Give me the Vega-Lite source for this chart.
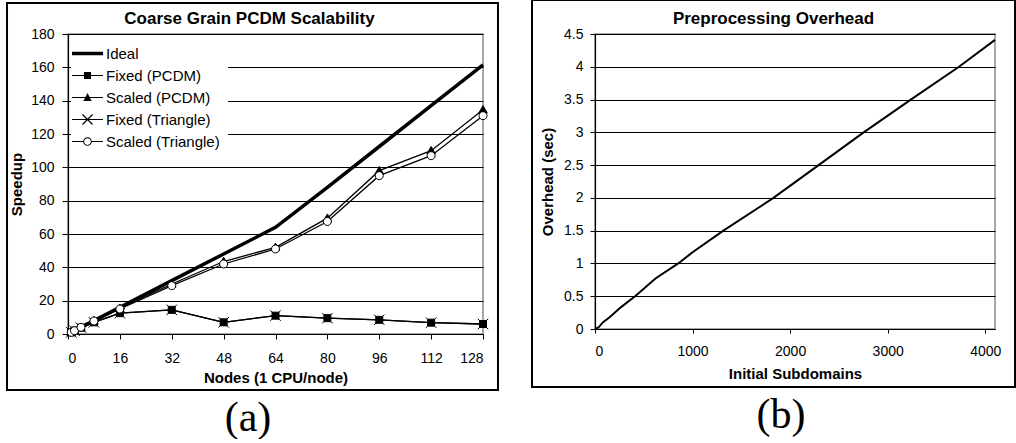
{
  "$schema": "https://vega.github.io/schema/vega-lite/v6.json",
  "background": "white",
  "padding": {"left": 5, "top": -2, "right": 0, "bottom": 0},
  "spacing": 30,
  "config": {
    "view": {"stroke": "#8c8c8c", "strokeWidth": 1.5},
    "axis": {
      "labelFont": "Liberation Sans", "labelFontSize": 14, "labelColor": "black",
      "titleFont": "Liberation Sans", "titleFontSize": 15, "titleFontWeight": "bold", "titleColor": "black",
      "tickColor": "black", "domainColor": "black", "gridColor": "black", "gridWidth": 1, "domainWidth": 1.2, "tickWidth": 1
    }
  },
  "datasets": {
    "speedup": [
      {"nodes": 1, "speedup": 1, "series": "Ideal"},
      {"nodes": 2, "speedup": 2, "series": "Ideal"},
      {"nodes": 4, "speedup": 4, "series": "Ideal"},
      {"nodes": 8, "speedup": 8, "series": "Ideal"},
      {"nodes": 16, "speedup": 16, "series": "Ideal"},
      {"nodes": 32, "speedup": 32, "series": "Ideal"},
      {"nodes": 48, "speedup": 48, "series": "Ideal"},
      {"nodes": 64, "speedup": 64, "series": "Ideal"},
      {"nodes": 80, "speedup": 88, "series": "Ideal"},
      {"nodes": 96, "speedup": 112.5, "series": "Ideal"},
      {"nodes": 112, "speedup": 137, "series": "Ideal"},
      {"nodes": 128, "speedup": 161.5, "series": "Ideal"},
      {"nodes": 1, "speedup": 1, "series": "Fixed (PCDM)"},
      {"nodes": 2, "speedup": 2, "series": "Fixed (PCDM)"},
      {"nodes": 4, "speedup": 3.8, "series": "Fixed (PCDM)"},
      {"nodes": 8, "speedup": 7, "series": "Fixed (PCDM)"},
      {"nodes": 16, "speedup": 12.5, "series": "Fixed (PCDM)"},
      {"nodes": 32, "speedup": 14.5, "series": "Fixed (PCDM)"},
      {"nodes": 48, "speedup": 7, "series": "Fixed (PCDM)"},
      {"nodes": 64, "speedup": 11, "series": "Fixed (PCDM)"},
      {"nodes": 80, "speedup": 9.5, "series": "Fixed (PCDM)"},
      {"nodes": 96, "speedup": 8.5, "series": "Fixed (PCDM)"},
      {"nodes": 112, "speedup": 6.8, "series": "Fixed (PCDM)"},
      {"nodes": 128, "speedup": 6, "series": "Fixed (PCDM)"},
      {"nodes": 1, "speedup": 1, "series": "Scaled (PCDM)"},
      {"nodes": 2, "speedup": 2, "series": "Scaled (PCDM)"},
      {"nodes": 4, "speedup": 4, "series": "Scaled (PCDM)"},
      {"nodes": 8, "speedup": 8, "series": "Scaled (PCDM)"},
      {"nodes": 16, "speedup": 15.5, "series": "Scaled (PCDM)"},
      {"nodes": 32, "speedup": 30, "series": "Scaled (PCDM)"},
      {"nodes": 48, "speedup": 43.5, "series": "Scaled (PCDM)"},
      {"nodes": 64, "speedup": 52, "series": "Scaled (PCDM)"},
      {"nodes": 80, "speedup": 69.5, "series": "Scaled (PCDM)"},
      {"nodes": 96, "speedup": 98, "series": "Scaled (PCDM)"},
      {"nodes": 112, "speedup": 110, "series": "Scaled (PCDM)"},
      {"nodes": 128, "speedup": 134.5, "series": "Scaled (PCDM)"},
      {"nodes": 1, "speedup": 1, "series": "Fixed (Triangle)"},
      {"nodes": 2, "speedup": 2, "series": "Fixed (Triangle)"},
      {"nodes": 4, "speedup": 3.8, "series": "Fixed (Triangle)"},
      {"nodes": 8, "speedup": 7, "series": "Fixed (Triangle)"},
      {"nodes": 16, "speedup": 12.5, "series": "Fixed (Triangle)"},
      {"nodes": 32, "speedup": 14.5, "series": "Fixed (Triangle)"},
      {"nodes": 48, "speedup": 7, "series": "Fixed (Triangle)"},
      {"nodes": 64, "speedup": 11, "series": "Fixed (Triangle)"},
      {"nodes": 80, "speedup": 9.5, "series": "Fixed (Triangle)"},
      {"nodes": 96, "speedup": 8.5, "series": "Fixed (Triangle)"},
      {"nodes": 112, "speedup": 6.8, "series": "Fixed (Triangle)"},
      {"nodes": 128, "speedup": 6, "series": "Fixed (Triangle)"},
      {"nodes": 1, "speedup": 1, "series": "Scaled (Triangle)"},
      {"nodes": 2, "speedup": 2, "series": "Scaled (Triangle)"},
      {"nodes": 4, "speedup": 4, "series": "Scaled (Triangle)"},
      {"nodes": 8, "speedup": 7.8, "series": "Scaled (Triangle)"},
      {"nodes": 16, "speedup": 15, "series": "Scaled (Triangle)"},
      {"nodes": 32, "speedup": 29, "series": "Scaled (Triangle)"},
      {"nodes": 48, "speedup": 42, "series": "Scaled (Triangle)"},
      {"nodes": 64, "speedup": 51, "series": "Scaled (Triangle)"},
      {"nodes": 80, "speedup": 67.5, "series": "Scaled (Triangle)"},
      {"nodes": 96, "speedup": 95, "series": "Scaled (Triangle)"},
      {"nodes": 112, "speedup": 107, "series": "Scaled (Triangle)"},
      {"nodes": 128, "speedup": 131, "series": "Scaled (Triangle)"}
    ],
    "overhead": [
      {"subdomains": 0, "overhead": 0},
      {"subdomains": 40, "overhead": 0.03},
      {"subdomains": 80, "overhead": 0.1},
      {"subdomains": 150, "overhead": 0.18},
      {"subdomains": 264, "overhead": 0.33},
      {"subdomains": 411, "overhead": 0.5},
      {"subdomains": 620, "overhead": 0.77},
      {"subdomains": 853, "overhead": 1.0},
      {"subdomains": 1000, "overhead": 1.17},
      {"subdomains": 1316, "overhead": 1.5},
      {"subdomains": 1829, "overhead": 2.0},
      {"subdomains": 2292, "overhead": 2.5},
      {"subdomains": 2754, "overhead": 3.0},
      {"subdomains": 3237, "overhead": 3.5},
      {"subdomains": 3731, "overhead": 4.0},
      {"subdomains": 4100, "overhead": 4.41}
    ]
  },
  "hconcat": [
    {
      "title": {"text": "(a)", "orient": "bottom", "anchor": "middle", "frame": "bounds", "font": "Liberation Serif", "fontSize": 42, "fontWeight": "normal", "color": "black", "offset": 6, "dx": -4.5},
      "vconcat": [
        {
          "width": 415,
          "height": 300,
          "title": {"text": "Coarse Grain PCDM Scalability", "anchor": "middle", "frame": "bounds", "font": "Liberation Sans", "fontSize": 17, "fontWeight": "bold", "color": "black", "offset": -26, "dx": -3},
          "layer": [
            {
              "data": {"name": "speedup"},
              "transform": [{"filter": "datum.series !== 'Ideal'"}],
              "mark": {"type": "line", "color": "black", "strokeWidth": 1.3},
              "encoding": {
                "x": {"field": "nodes", "type": "quantitative", "scale": {"domain": [0, 128], "nice": false},
                      "axis": {"title": "Nodes (1 CPU/node)", "values": [0, 16, 32, 48, 64, 80, 96, 112, 128], "tickCount": 20, "grid": false, "tickSize": 5, "labelPadding": 12, "titlePadding": 5}},
                "y": {"field": "speedup", "type": "quantitative", "scale": {"domain": [0, 180], "nice": false},
                      "axis": {"title": "Speedup", "values": [0, 20, 40, 60, 80, 100, 120, 140, 160, 180], "tickCount": 20, "grid": true, "tickSize": 6, "labelPadding": 8, "titlePadding": 6}},
                "detail": {"field": "series", "type": "nominal"}
              }
            },
            {
              "data": {"name": "speedup"},
              "transform": [{"filter": "datum.series === 'Ideal'"}],
              "mark": {"type": "line", "color": "black", "strokeWidth": 3.5},
              "encoding": {
                "x": {"field": "nodes", "type": "quantitative"},
                "y": {"field": "speedup", "type": "quantitative"}
              }
            },
            {
              "data": {"name": "speedup"},
              "transform": [{"filter": "datum.series !== 'Ideal'"}],
              "mark": {"type": "point", "stroke": "black", "strokeWidth": 1, "opacity": 1, "fillOpacity": 1, "size": 100},
              "encoding": {
                "x": {"field": "nodes", "type": "quantitative"},
                "y": {"field": "speedup", "type": "quantitative"},
                "fill": {"condition": {"test": "datum.series === 'Scaled (Triangle)'", "value": "white"}, "value": "black"},
                "shape": {
                  "condition": [
                    {"test": "datum.series === 'Fixed (PCDM)'", "value": "M-0.7,-0.7H0.7V0.7H-0.7Z"},
                    {"test": "datum.series === 'Scaled (PCDM)'", "value": "M0,-0.85L0.85,0.65H-0.85Z"},
                    {"test": "datum.series === 'Fixed (Triangle)'", "value": "M-1.05,-1.05L1.05,1.05M-1.05,1.05L1.05,-1.05"}
                  ],
                  "value": "M-0.8,0A0.8,0.8 0 1,0 0.8,0A0.8,0.8 0 1,0 -0.8,0Z"
                }
              }
            },
            {
              "data": {"name": "speedup"},
              "transform": [{"filter": "false"}],
              "mark": {"type": "point", "filled": true, "color": "black", "opacity": 1},
              "encoding": {
                "x": {"field": "nodes", "type": "quantitative"},
                "y": {"field": "speedup", "type": "quantitative"},
                "shape": {
                  "field": "series", "type": "nominal",
                  "scale": {"domain": ["Ideal", "Fixed (PCDM)", "Scaled (PCDM)", "Fixed (Triangle)", "Scaled (Triangle)"],
                            "range": [
                              "M-2.07,-0.233H2.07V0.233H-2.07Z",
                              "M-2.07,-0.08H2.07V0.08H-2.07ZM-0.47,-0.47H0.47V0.47H-0.47Z",
                              "M-2.07,-0.08H2.07V0.08H-2.07ZM0,-0.6L0.55,0.45H-0.55Z",
                              "M-2.07,-0.08H2.07V0.08H-2.07ZM-0.613,-0.727L0.727,0.613L0.613,0.727L-0.727,-0.613ZM-0.727,0.613L0.613,-0.727L0.727,-0.613L-0.613,0.727Z",
                              "M-2.07,-0.08H-0.5V0.08H-2.07ZM0.5,-0.08H2.07V0.08H0.5ZM-0.58,0A0.58,0.58 0 1,1 0.58,0A0.58,0.58 0 1,1 -0.58,0ZM-0.45,0A0.45,0.45 0 1,0 0.45,0A0.45,0.45 0 1,0 -0.45,0Z"
                            ]},
                  "legend": {
                    "title": null, "orient": "top-left", "offset": 3, "padding": 8, "fillColor": "white",
                    "labelFont": "Liberation Sans", "labelFontSize": 15, "labelColor": "black", "labelOffset": 10,
                    "symbolSize": 225, "rowPadding": 5, "symbolOpacity": 1
                  }
                }
              }
            },
            {
              "data": {"values": [{}]},
              "mark": {"type": "rect", "filled": false, "color": "black", "strokeWidth": 2},
              "encoding": {
                "x": {"datum": -18.81, "type": "quantitative"},
                "x2": {"datum": 132.62},
                "y": {"datum": -33.6, "type": "quantitative"},
                "y2": {"datum": 198.6}
              }
            }
          ]
        }
      ]
    },
    {
      "title": {"text": "(b)", "orient": "bottom", "anchor": "middle", "frame": "bounds", "font": "Liberation Serif", "fontSize": 42, "fontWeight": "normal", "color": "black", "offset": 6, "dx": 7.5},
      "vconcat": [
        {
          "width": 400,
          "height": 295,
          "title": {"text": "Preprocessing Overhead", "anchor": "middle", "frame": "bounds", "font": "Liberation Sans", "fontSize": 17, "fontWeight": "bold", "color": "black", "offset": -29, "dx": 0},
          "layer": [
            {
              "data": {"name": "overhead"},
              "mark": {"type": "line", "color": "black", "strokeWidth": 2},
              "encoding": {
                "x": {"field": "subdomains", "type": "quantitative", "scale": {"domain": [0, 4100], "nice": false},
                      "axis": {"title": "Initial Subdomains", "values": [0, 1000, 2000, 3000, 4000], "tickCount": 20, "format": "d", "grid": false, "tickSize": 4, "labelPadding": 11, "titlePadding": 8}},
                "y": {"field": "overhead", "type": "quantitative", "scale": {"domain": [0, 4.5], "nice": false},
                      "axis": {"title": "Overhead (sec)", "values": [0, 0.5, 1, 1.5, 2, 2.5, 3, 3.5, 4, 4.5], "tickCount": 20, "format": "~g", "grid": true, "tickSize": 5, "labelPadding": 7, "titlePadding": 8}}
              }
            },
            {
              "data": {"values": [{}]},
              "mark": {"type": "rect", "filled": false, "color": "black", "strokeWidth": 2},
              "encoding": {
                "x": {"datum": -645.75, "type": "quantitative"},
                "x2": {"datum": 4305},
                "y": {"datum": -0.8847, "type": "quantitative"},
                "y2": {"datum": 5.019}
              }
            }
          ]
        }
      ]
    }
  ]
}
